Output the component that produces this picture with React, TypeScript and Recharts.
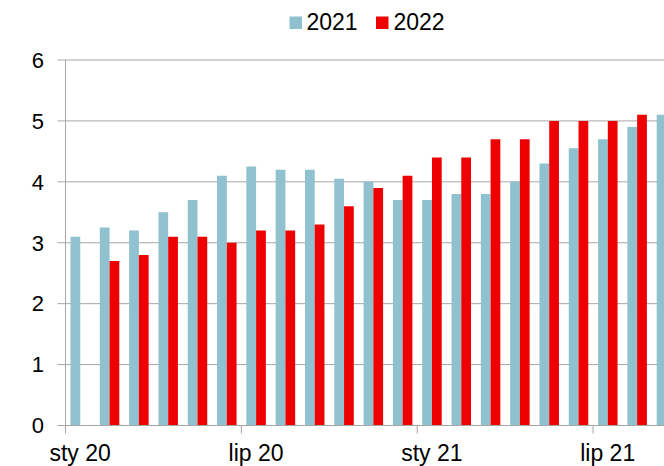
import React from 'react';
import { BarChart, Bar, XAxis, YAxis, CartesianGrid } from 'recharts';

// Monthly categories (Polish month abbreviations)
const months = [
  'sty 20', 'lut 20', 'mar 20', 'kwi 20', 'maj 20', 'cze 20',
  'lip 20', 'sie 20', 'wrz 20', 'paź 20', 'lis 20', 'gru 20',
  'sty 21', 'lut 21', 'mar 21', 'kwi 21', 'maj 21', 'cze 21',
  'lip 21', 'sie 21', 'wrz 21',
];

const values2021 = [
  3.1, 3.25, 3.2, 3.5, 3.7, 4.1, 4.25, 4.2, 4.2, 4.05, 4.0, 3.7,
  3.7, 3.8, 3.8, 4.0, 4.3, 4.55, 4.7, 4.9, 5.1,
];

const values2022: (number | null)[] = [
  null, 2.7, 2.8, 3.1, 3.1, 3.0, 3.2, 3.2, 3.3, 3.6, 3.9, 4.1,
  4.4, 4.4, 4.7, 4.7, 5.0, 5.0, 5.0, 5.1, null,
];

const yTicks = [0, 1, 2, 3, 4, 5, 6];

const seriesNames = ['2021', '2022'];
const seriesColors = ['#8FC1CF', '#EE0000'];

const data = months.map((m, i) => ({
  month: m,
  s2021: values2021[i],
  s2022: values2022[i],
}));

const FONT = '"Liberation Sans", Arial, sans-serif';
const CHART_W = 681;
const CHART_H = 466;
const Y_AXIS_W = 65.5;
const MARGIN = { top: 60, right: 0, bottom: 0, left: 0 };
const X_AXIS_H = 40.5;
const BAND = (CHART_W - Y_AXIS_W - MARGIN.right) / months.length;
const AXIS_GRAY = '#A6A6A6';

// Category labels sit at the band centre, tick marks on the band's left boundary
const MonthTick = (props: any) => {
  const { x, y, payload } = props;
  const bx = x - BAND / 2;
  return (
    <g>
      <line x1={bx} x2={bx} y1={y} y2={y + 8} stroke={AXIS_GRAY} strokeWidth={1} />
      <text
        x={x}
        y={y + 35.5}
        textAnchor="middle"
        fill="#000"
        fontSize={23}
        fontFamily={FONT}
      >
        {payload.value}
      </text>
    </g>
  );
};

const LegendOverlay = () => (
  <svg
    width={664}
    height={60}
    style={{ position: 'absolute', left: 0, top: 0, pointerEvents: 'none' }}
  >
    <rect x={289.5} y={16.5} width={12.5} height={12.5} fill={seriesColors[0]} />
    <text x={306.5} y={30} fontSize={23} fontFamily={FONT} fill="#000">
      {seriesNames[0]}
    </text>
    <rect x={376} y={16.5} width={12.5} height={12.5} fill={seriesColors[1]} />
    <text x={393.5} y={30} fontSize={23} fontFamily={FONT} fill="#000">
      {seriesNames[1]}
    </text>
  </svg>
);

export default function App() {
  return (
    <div
      style={{
        position: 'fixed',
        left: 0,
        top: 0,
        width: 664,
        height: 466,
        overflow: 'hidden',
        background: '#fff',
      }}
    >
      <BarChart
        width={CHART_W}
        height={CHART_H}
        data={data}
        margin={MARGIN}
        barGap={0}
        barSize={9.75}
      >
        <CartesianGrid vertical={false} stroke={AXIS_GRAY} strokeWidth={1} />
        <XAxis
          dataKey="month"
          interval={5}
          height={X_AXIS_H}
          tickSize={0}
          tickMargin={0}
          tickLine={false}
          axisLine={{ stroke: AXIS_GRAY }}
          tick={<MonthTick />}
        />
        <YAxis
          width={Y_AXIS_W}
          domain={[0, 6]}
          ticks={yTicks}
          interval={0}
          tickSize={8}
          tickMargin={13.5}
          axisLine={{ stroke: AXIS_GRAY }}
          tickLine={{ stroke: AXIS_GRAY }}
          tick={{ fill: '#000', fontSize: 22, fontFamily: FONT }}
        />
        <Bar dataKey="s2021" name={seriesNames[0]} fill={seriesColors[0]} isAnimationActive={false} />
        <Bar dataKey="s2022" name={seriesNames[1]} fill={seriesColors[1]} isAnimationActive={false} />
      </BarChart>
      <LegendOverlay />
    </div>
  );
}
